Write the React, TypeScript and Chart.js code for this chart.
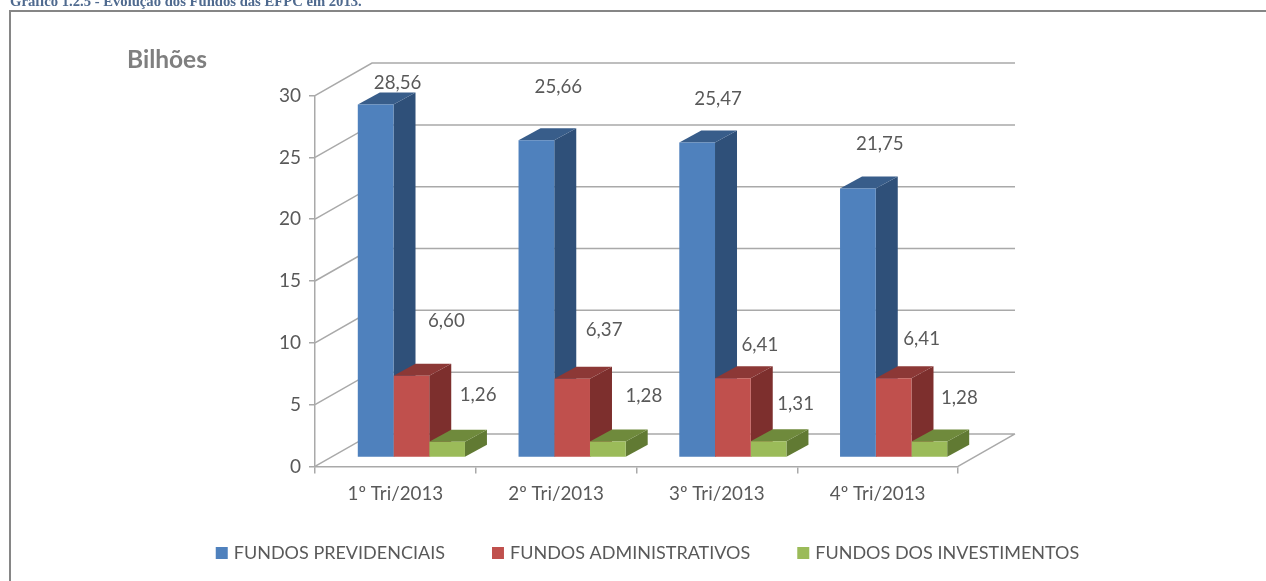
import React, { useEffect, useRef } from "react";
import { Chart, registerables } from "chart.js";

Chart.register(...registerables);

const chartTitle = "Gráfico 1.2.5 - Evolução dos Fundos das EFPC em 2013.";
const unitLabel = "Bilhões";
const categories = ["1º Tri/2013", "2º Tri/2013", "3º Tri/2013", "4º Tri/2013"];
const previdenciais = [28.56, 25.66, 25.47, 21.75];
const administrativos = [6.6, 6.37, 6.41, 6.41];
const investimentos = [1.26, 1.28, 1.31, 1.28];

const FONT = "Lato, 'Open Sans', sans-serif";
const GRID = "#a9a9a9";
const TEXT = "#595959";
// projection of the 3D scene
const WALL = { dx: 57, dy: -32.5 };
const BAR_SHIFT = { dx: 16, dy: -9 };
const BAR_DEPTH = { dx: 22, dy: -12 };
const faces = [
  { front: "#4f81bd", top: "#385d8a", side: "#2f5079" },
  { front: "#c0504d", top: "#8c3836", side: "#7d2f2d" },
  { front: "#9bbb59", top: "#6f8a3c", side: "#617a33" },
];
// hand-placed data labels of the original, offset from each bar's top-centre (after shift)
const labelOffsets = [
  [[22, -21], [22, -53], [21, -44], [22, -45]],
  [[35, -55], [32, -49], [27, -33], [28, -39]],
  [[31, -47], [36, -46], [27, -37], [30, -44]],
];

const fmt = (v: number) => v.toFixed(2).replace(".", ",");

const scene3d = {
  id: "scene3d",
  afterLayout(chart: any) {
    const lg = chart.legend;
    lg.left += 16;
    lg.right += 16;
    const h = lg.bottom - lg.top;
    lg.top = 533 - h / 2;
    lg.bottom = lg.top + h;
    const t = chart.titleBlock;
    t.left = 10;
    t.top = -7;
  },
  beforeDraw(chart: any) {
    const { ctx, width, height } = chart;
    ctx.save();
    ctx.fillStyle = "#fff";
    ctx.fillRect(0, 0, width, height);
    ctx.strokeStyle = "#868686";
    ctx.lineWidth = 2;
    ctx.beginPath();
    ctx.moveTo(10, height);
    ctx.lineTo(10, 11);
    ctx.lineTo(width, 11);
    ctx.stroke();
    ctx.fillStyle = "#7f7f7f";
    ctx.font = `bold 24.5px ${FONT}`;
    ctx.textAlign = "left";
    ctx.textBaseline = "middle";
    ctx.fillText(unitLabel, 127, 60);
    ctx.restore();
  },
  beforeDatasetsDraw(chart: any) {
    const { ctx, chartArea, scales } = chart;
    const { left, right, bottom } = chartArea;
    ctx.save();
    ctx.strokeStyle = GRID;
    ctx.lineWidth = 1.5;
    ctx.beginPath();
    for (const tick of scales.y.ticks) {
      const y = scales.y.getPixelForValue(tick.value);
      ctx.moveTo(left, y);
      ctx.lineTo(left + WALL.dx, y + WALL.dy);
      ctx.lineTo(right + WALL.dx, y + WALL.dy);
    }
    ctx.moveTo(right, bottom);
    ctx.lineTo(right + WALL.dx, bottom + WALL.dy);
    ctx.stroke();

    // top and side faces, back to front
    ctx.translate(BAR_SHIFT.dx, BAR_SHIFT.dy);
    const n = chart.data.datasets.length;
    for (let c = 0; c < categories.length; c++) {
      for (let d = 0; d < n; d++) {
        const bar = chart.getDatasetMeta(d).data[c];
        const x0 = bar.x - bar.width / 2;
        const x1 = bar.x + bar.width / 2;
        const { dx, dy } = BAR_DEPTH;
        ctx.fillStyle = faces[d].side;
        ctx.beginPath();
        ctx.moveTo(x1, bar.y);
        ctx.lineTo(x1 + dx, bar.y + dy);
        ctx.lineTo(x1 + dx, bar.base + dy);
        ctx.lineTo(x1, bar.base);
        ctx.closePath();
        ctx.fill();
        ctx.fillStyle = faces[d].top;
        ctx.beginPath();
        ctx.moveTo(x0, bar.y);
        ctx.lineTo(x0 + dx, bar.y + dy);
        ctx.lineTo(x1 + dx, bar.y + dy);
        ctx.lineTo(x1, bar.y);
        ctx.closePath();
        ctx.fill();
      }
    }
    // fronts are drawn by the library in the same shifted frame (restored afterwards)
  },
  afterDatasetsDraw(chart: any) {
    const { ctx } = chart;
    ctx.restore();
    ctx.save();
    ctx.fillStyle = TEXT;
    ctx.font = `18.7px ${FONT}`;
    ctx.textAlign = "center";
    ctx.textBaseline = "middle";
    chart.data.datasets.forEach((ds: any, d: number) => {
      chart.getDatasetMeta(d).data.forEach((bar: any, c: number) => {
        const [ox, oy] = labelOffsets[d][c];
        ctx.fillText(fmt(ds.data[c]), bar.x + BAR_SHIFT.dx + ox, bar.y + BAR_SHIFT.dy + oy);
      });
    });
    ctx.restore();
  },
};

export default function App() {
  const ref = useRef<HTMLCanvasElement>(null);
  useEffect(() => {
    document.body.style.margin = "0";
    const chart = new Chart(ref.current!, {
      type: "bar",
      plugins: [scene3d],
      data: {
        labels: categories,
        datasets: [
          { label: "FUNDOS PREVIDENCIAIS", data: previdenciais, backgroundColor: faces[0].front },
          { label: "FUNDOS ADMINISTRATIVOS", data: administrativos, backgroundColor: faces[1].front },
          { label: "FUNDOS DOS INVESTIMENTOS", data: investimentos, backgroundColor: faces[2].front },
        ],
      },
      options: {
        responsive: false,
        animation: false,
        layout: { padding: { left: 0, right: 0, top: 78, bottom: -11 } },
        datasets: { bar: { categoryPercentage: 107 / 160.5, barPercentage: 1 } },
        scales: {
          x: {
            grid: { drawOnChartArea: false, color: GRID, lineWidth: 1.5, tickLength: 7, offset: true },
            border: { color: GRID, width: 1.5 },
            ticks: { color: TEXT, font: { family: FONT, size: 18.8 }, padding: 9 },
          },
          y: {
            min: 0,
            max: 30,
            afterFit: (s: any) => { s.width = 315; },
            grid: { drawOnChartArea: false, color: GRID, lineWidth: 1.5, tickLength: 6 },
            border: { color: GRID, width: 1.5 },
            ticks: { stepSize: 5, color: TEXT, font: { family: FONT, size: 19 }, padding: 8 },
          },
          spacer: {
            axis: "y",
            position: "right",
            afterFit: (s: any) => { s.width = 308; },
            grid: { display: false, drawOnChartArea: false },
            border: { display: false },
            ticks: { display: false },
          },
        },
        plugins: {
          tooltip: { enabled: false },
          title: {
            display: true,
            text: chartTitle,
            align: "start",
            color: "#4f6a8f",
            font: { family: "'Liberation Serif', serif", size: 14.67, weight: "bold" },
            padding: 0,
          },
          legend: {
            position: "bottom",
            labels: {
              font: { family: FONT, size: 18 },
              boxWidth: 6,
              boxHeight: 6,
              padding: 50,
              generateLabels: (c: any) =>
                c.data.datasets.map((ds: any, i: number) => ({
                  text: ds.label,
                  fontColor: TEXT,
                  fillStyle: ds.backgroundColor,
                  strokeStyle: ds.backgroundColor,
                  lineWidth: 6,
                  datasetIndex: i,
                })),
            },
          },
        },
      } as any,
    });
    return () => chart.destroy();
  }, []);
  return <canvas ref={ref} width={1266} height={581} style={{ display: "block" }} />;
}
